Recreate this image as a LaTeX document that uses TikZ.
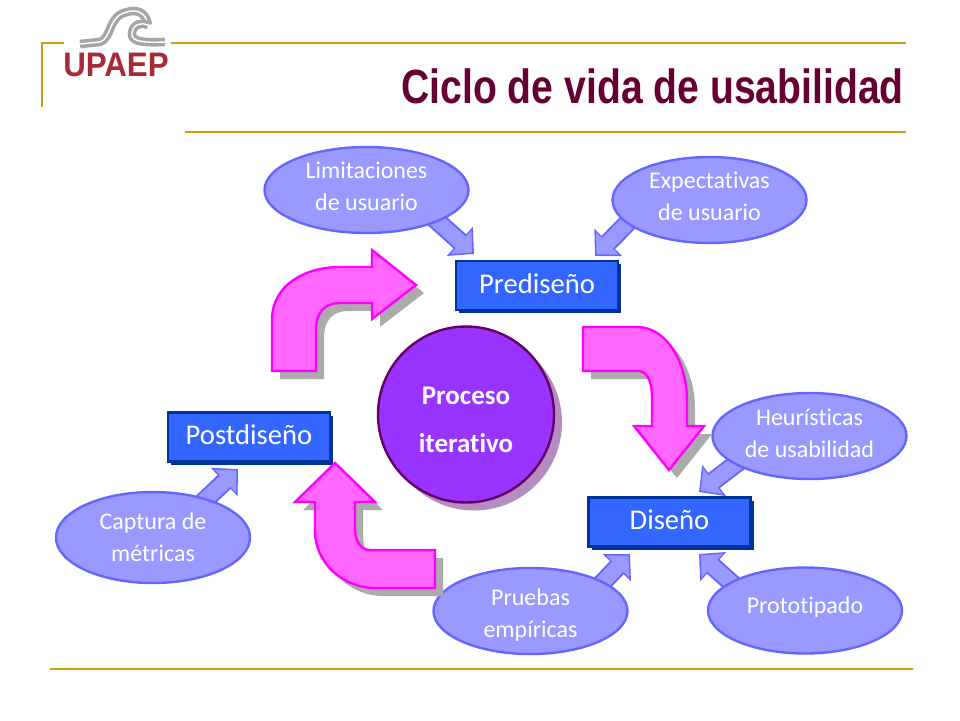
\documentclass[tikz,border=0pt]{standalone}
\usepackage{fontspec}
\usepackage{tikz}
\usetikzlibrary{arrows.meta,shadows,backgrounds,shapes.geometric}
\setmainfont[Ligatures=NoCommon]{Carlito}
\newfontfamily\titlefont{Liberation Sans}
\definecolor{rulegold}{HTML}{C9A013}
\definecolor{titlewine}{HTML}{660033}
\definecolor{logored}{HTML}{A82A38}
\definecolor{boxblue}{HTML}{3366FF}
\definecolor{boxdark}{HTML}{003399}
\definecolor{ovalfill}{HTML}{9999FF}
\definecolor{ovaledge}{HTML}{6666FF}
\definecolor{bendfill}{HTML}{FF66FF}
\definecolor{bendedge}{HTML}{FF00FF}
\definecolor{bendshade}{HTML}{ABABAB}
\definecolor{ballfill}{HTML}{9933FF}
\definecolor{balledge}{HTML}{660066}
\definecolor{ballshade}{HTML}{B48CC0}

\begin{document}
\begin{tikzpicture}[x=0.5pt, y=-0.5pt,
    rulestyle/.style={draw=rulegold, line width=1pt},
    logoline/.style={draw=gray!70, line width=1.8pt, double=white, double distance=0.7pt},
    stagebox/.style={rectangle, draw=boxdark, line width=1.4pt, fill=boxblue, text=white,
        minimum width=81pt, minimum height=24.5pt, inner sep=0pt, text depth=2pt,
        font=\fontsize{14.3}{16}\selectfont,
        drop shadow={shadow xshift=1.5pt, shadow yshift=-1.5pt, opacity=1, fill=boxdark}},
    oval/.style={ellipse, draw=ovaledge, line width=1.2pt, fill=ovalfill, text=white, align=center,
        minimum width=97pt, minimum height=43pt, inner sep=0pt, font=\fontsize{12}{16}\selectfont},
    linkarrow/.style={draw=ovaledge, line width=9.5pt, shorten <=-3pt,
        -{Triangle[length=9.5pt, width=19pt]},
        postaction={draw=ovalfill, line width=7.5pt, shorten <=-3pt, shorten >=1.1pt,
        -{Triangle[length=7.7pt, width=15.4pt]}}},
    bendarrow/.style={draw=bendedge, fill=bendfill, line width=1.2pt, line join=miter,
        drop shadow={shadow xshift=4pt, shadow yshift=-4pt, opacity=1, fill=bendshade}}]
    \useasboundingbox (0,0) rectangle (960,720);

    % Rules around the title
    \draw[rulestyle] (64,43) -- (42,43) -- (42,107);
    \draw[rulestyle] (171,43) -- (906,43);
    \draw[rulestyle] (185,132) -- (906,132);
    \draw[rulestyle] (50,669) -- (913,669);

    % Logo
    \draw[logoline] (80,44) -- (100,42) .. controls (112,38) and (108,16) .. (127,12)
        .. controls (136,9) and (146,12) .. (148,25);
    \draw[logoline] (148,25) .. controls (142,22) and (133,24) .. (132,33)
        .. controls (131,41) and (140,43) .. (165,42);
    \node[text=logored, font=\titlefont\bfseries\fontsize{17}{17}\selectfont, xscale=0.92] (logo) at (116,65) {UPAEP};

    % Title
    \node[anchor=east, text=titlewine, font=\titlefont\bfseries\fontsize{24}{26}\selectfont, xscale=0.815,
        inner sep=0pt] (title) at (904,86) {Ciclo de vida de usabilidad};

    % Define stages
    \node[stagebox] (pre) at (537,285.5) {Prediseño};
    \node[stagebox] (dis) at (669.5,522) {Diseño};
    \node[stagebox] (post) at (249,437) {Postdiseño};

    % Center ball
    \node[circle, draw=balledge, line width=1.2pt, fill=ballfill, text=white, align=center,
        minimum size=88pt, inner sep=0pt, font=\bfseries\fontsize{13.5}{24}\selectfont,
        drop shadow={shadow xshift=4pt, shadow yshift=-4pt, opacity=1, fill=ballshade}]
        (ball) at (466,414.5) {\rule{0pt}{14pt}Proceso\\iterativo};

    % Define ovals
    \node[oval, minimum width=102pt, text depth=3.5pt] (lim) at (366.5,190) {Limitaciones\\de usuario};
    \node[oval, text depth=3.5pt] (exp) at (709.5,200) {Expectativas\\de usuario};
    \node[oval, text depth=3pt] (heu) at (809.5,436) {Heurísticas\\de usabilidad};
    \node[oval, text depth=5pt] (pro) at (805,610.5) {Prototipado};
    \node[oval] (pru) at (530.5,611) {\rule{0pt}{12.5pt}Pruebas\\empíricas};
    \node[oval, minimum height=45.5pt] (cap) at (153,537.5) {Captura de\\ métricas};

    % Free ends of the small arrows
    \coordinate (limtip) at (474,254);
    \coordinate (exptip) at (595,256);
    \coordinate (heutip) at (699,492);
    \coordinate (protip) at (699,554);
    \coordinate (prutip) at (630,554);
    \coordinate (captip) at (238,469);

    % Small arrows go behind the ovals
    \begin{scope}[on background layer]
        \draw[linkarrow] (lim.-24) -- (limtip);
        \draw[linkarrow] (exp.196) -- (exptip);
        \draw[linkarrow] (heu.201) -- (heutip);
        \draw[linkarrow] (pro.159) -- (protip);
        \draw[linkarrow] (pru.22) -- (prutip);
        \draw[linkarrow] (cap.36) -- (captip);
    \end{scope}

    % Big bent arrows
    \path[bendarrow] (272,371) -- (272,320) .. controls (272,285) and (305,267) .. (340,267)
        -- (372,267) -- (372,250) -- (416,285) -- (372,319) -- (372,303) -- (340,303)
        .. controls (325,303) and (316,312) .. (316,330) -- (316,371) -- cycle;
    \path[bendarrow] (583,327) -- (637,327) .. controls (668,327) and (687,365) .. (687,400)
        -- (687,426) -- (704,426) -- (669,470) -- (634,426) -- (652,426) -- (652,397)
        .. controls (652,383) and (648,371) .. (638,371) -- (583,371) -- cycle;
    \path[bendarrow] (435,550) -- (370,550) .. controls (360,550) and (355,540) .. (355,528)
        -- (355,502) -- (375,502) -- (335,463) -- (295,502) -- (315,502) -- (315,530)
        .. controls (315,565) and (345,588) .. (375,588) -- (435,588) -- cycle;
\end{tikzpicture}
\end{document}
